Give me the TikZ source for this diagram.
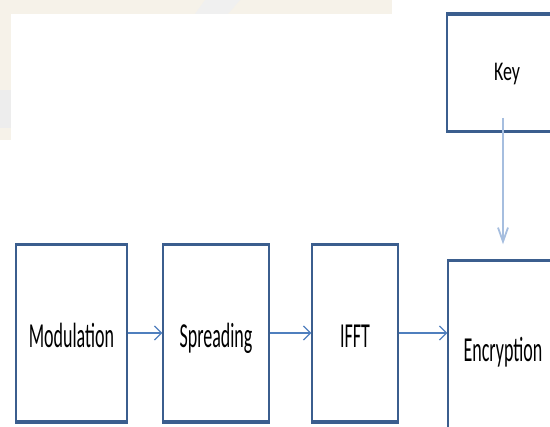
\documentclass[tikz,border=0pt]{standalone}
\usepackage{fontspec}
\setmainfont{Carlito}
\usetikzlibrary{arrows.meta,positioning}
\definecolor{boxline}{HTML}{3B5E8E}
\definecolor{flowline}{HTML}{4F7FBE}
\definecolor{keyline}{HTML}{A6BEDF}
\definecolor{paper}{HTML}{F6F2E9}
\newcommand{\tall}[2][1.95]{\scalebox{1}[#1]{#2}}

\begin{document}
\begin{tikzpicture}[
  x=0.5pt, y=-0.5pt,
  block/.style={draw=boxline, line width=0.75pt, fill=white, align=center,
    font=\fontsize{9}{11}\selectfont, text height=14pt, text depth=0pt, inner sep=0pt},
  rim/.style={boxline, line width=1.75pt},
  arrow/.style={flowline, line width=0.6pt, -{Straight Barb[length=3.5pt, width=7pt]}},
  keyarrow/.style={keyline, line width=0.9pt, -{Straight Barb[length=7pt, width=5pt]}}
]
\useasboundingbox (0,0) rectangle (550,427);
\clip (0,0) rectangle (550,427);

% faded backdrop, top left
\fill[paper] (0,0) rectangle (392,14);
\fill[paper] (0,0) rectangle (11,140);
\fill[black!6] (205,0) -- (240,0) -- (228,14) -- (195,14) -- cycle;
\fill[black!7] (0,90) rectangle (11,128);

\node[block, minimum width=55.5pt, minimum height=88pt] (mod) at (71.5,333) {\tall{Modulation}};
\node[block, minimum width=53pt, minimum height=88pt, right=17.25pt of mod] (spread) {\tall{Spreading}};
\node[block, minimum width=43pt, minimum height=88pt, right=20.75pt of spread] (ifft) {\tall{IFFT}};
\node[block, minimum width=55pt, minimum height=86pt, right=24.25pt of ifft, yshift=-7pt] (enc) {\tall{Encryption}};
\node[block, minimum width=60pt, minimum height=58pt, text height=8pt, above=64.25pt of enc, xshift=2pt] (key) {\tall[1.5]{Key}};

% heavier top and bottom edges
\foreach \b in {mod,spread,ifft,enc,key}
  \draw[rim] (\b.north west) -- (\b.north east) (\b.south west) -- (\b.south east);

\draw[arrow] (mod) -- (spread);
\draw[arrow] (spread) -- (ifft);
\draw[arrow] (ifft.east) -- (ifft.east -| enc.west);

\coordinate (keytail) at (503,118);
\draw[keyarrow, shorten >=8pt] (keytail) -- (keytail |- enc.north);

\end{tikzpicture}
\end{document}
